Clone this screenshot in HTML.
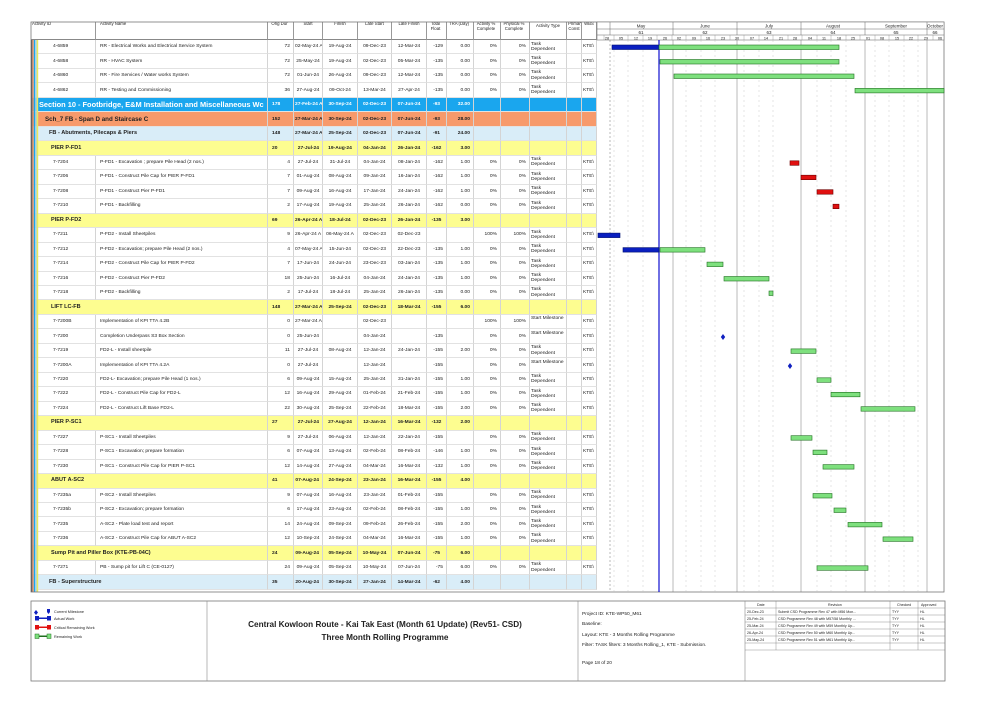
<!DOCTYPE html>
<html><head><meta charset="utf-8">
<style>
body{margin:0;width:1001px;height:708px;background:#fff;position:relative;overflow:hidden;font-family:"Liberation Sans",sans-serif;color:#222}
#tbl{position:absolute;left:31px;top:22px;border-collapse:separate;border-spacing:0;table-layout:fixed;width:566px}
#tbl td{padding:0 1px;font-size:4.9px;line-height:5px;overflow:hidden;white-space:nowrap;border-right:1px solid #d4d4d4;border-bottom:1px solid #e2e2e2;vertical-align:middle}
#tbl tr{height:14.47px}
#tbl tr.h{height:18px}
#tbl tr.h td{font-size:4.3px;text-align:center;vertical-align:top;border-bottom:1px solid #888;border-right:1px solid #999;white-space:normal;line-height:4.6px}
#tbl td:nth-child(1){padding-left:22px}
#tbl td:nth-child(3),#tbl td:nth-child(8),#tbl td:nth-child(9),#tbl td:nth-child(10),#tbl td:nth-child(11){text-align:right;padding-right:3px}
#tbl td:nth-child(4),#tbl td:nth-child(5),#tbl td:nth-child(6),#tbl td:nth-child(7){text-align:center}
#tbl td:nth-child(12){vertical-align:top;padding-top:1.5px;line-height:5.2px}
#tbl td:nth-child(2){padding-left:4px}
#tbl tr.s10 td{background:#1aa6ee;color:#fff;font-weight:bold}
#tbl tr.s10 td:first-child{font-size:7.4px;padding-left:8px}
#tbl tr.s7 td{background:#f79a6b;font-weight:bold}
#tbl tr.s7 td:first-child{font-size:6.2px;padding-left:14px}
#tbl tr.fb td{background:#d9edf8;font-weight:bold}
#tbl tr.fb td:first-child{font-size:5.6px;padding-left:18px}
#tbl tr.p td{background:#fdfd90;font-weight:bold}
#tbl tr.p td:first-child{font-size:5.5px;padding-left:20px}
</style></head><body>
<table id="tbl">
<colgroup><col style="width:65px"><col style="width:172px"><col style="width:26px"><col style="width:29px"><col style="width:35px"><col style="width:34px"><col style="width:35px"><col style="width:20px"><col style="width:27px"><col style="width:27px"><col style="width:29px"><col style="width:37px"><col style="width:15px"><col style="width:15px"></colgroup>
<tr class="h"><td style="text-align:left;padding-left:1px">Activity ID</td><td style="text-align:left">Activity Name</td><td>Orig Dur</td><td>Start</td><td>Finish</td><td>Late Start</td><td>Late Finish</td><td>Total Float</td><td>TRA (Day)</td><td>Activity % Complete</td><td>Physical % Complete</td><td>Activity Type</td><td>Primary Const</td><td>WBS</td></tr>
<tr><td>4-6859</td><td>RR - Electrical Works and Electrical Service System</td><td>72</td><td>02-May-24 A</td><td>19-Aug-24</td><td>09-Dec-23</td><td>12-Mar-24</td><td>-129</td><td>0.00</td><td>0%</td><td>0%</td><td>Task<br>Dependent</td><td></td><td>KTE\</td></tr>
<tr><td>4-6858</td><td>RR - HVAC System</td><td>72</td><td>25-May-24</td><td>19-Aug-24</td><td>02-Dec-23</td><td>05-Mar-24</td><td>-135</td><td>0.00</td><td>0%</td><td>0%</td><td>Task<br>Dependent</td><td></td><td>KTE\</td></tr>
<tr><td>4-6860</td><td>RR - Fire Services / Water works System</td><td>72</td><td>01-Jun-24</td><td>26-Aug-24</td><td>09-Dec-23</td><td>12-Mar-24</td><td>-135</td><td>0.00</td><td>0%</td><td>0%</td><td>Task<br>Dependent</td><td></td><td>KTE\</td></tr>
<tr><td>4-6862</td><td>RR - Testing and Commissioning</td><td>36</td><td>27-Aug-24</td><td>09-Oct-24</td><td>13-Mar-24</td><td>27-Apr-24</td><td>-135</td><td>0.00</td><td>0%</td><td>0%</td><td>Task<br>Dependent</td><td></td><td>KTE\</td></tr>
<tr class="s10"><td colspan="2">Section 10 - Footbridge, E&amp;M Installation and Miscellaneous Wc</td><td>178</td><td>27-Feb-24 A</td><td>30-Sep-24</td><td>02-Dec-23</td><td>07-Jun-24</td><td>-93</td><td>32.00</td><td></td><td></td><td></td><td></td><td></td></tr>
<tr class="s7"><td colspan="2">Sch_7 FB - Span D and Staircase C</td><td>152</td><td>27-Mar-24 A</td><td>30-Sep-24</td><td>02-Dec-23</td><td>07-Jun-24</td><td>-93</td><td>28.00</td><td></td><td></td><td></td><td></td><td></td></tr>
<tr class="fb"><td colspan="2">FB - Abutments, Pilecaps &amp; Piers</td><td>148</td><td>27-Mar-24 A</td><td>25-Sep-24</td><td>02-Dec-23</td><td>07-Jun-24</td><td>-91</td><td>24.00</td><td></td><td></td><td></td><td></td><td></td></tr>
<tr class="p"><td colspan="2">PIER P-FD1</td><td>20</td><td>27-Jul-24</td><td>19-Aug-24</td><td>04-Jan-24</td><td>26-Jan-24</td><td>-162</td><td>3.00</td><td></td><td></td><td></td><td></td><td></td></tr>
<tr><td>7-7204</td><td>P-FD1 - Excavation ; prepare Pile Head (2 nos.)</td><td>4</td><td>27-Jul-24</td><td>31-Jul-24</td><td>04-Jan-24</td><td>08-Jan-24</td><td>-162</td><td>1.00</td><td>0%</td><td>0%</td><td>Task<br>Dependent</td><td></td><td>KTE\</td></tr>
<tr><td>7-7206</td><td>P-FD1 - Construct Pile Cap for PIER P-FD1</td><td>7</td><td>01-Aug-24</td><td>08-Aug-24</td><td>09-Jan-24</td><td>16-Jan-24</td><td>-162</td><td>1.00</td><td>0%</td><td>0%</td><td>Task<br>Dependent</td><td></td><td>KTE\</td></tr>
<tr><td>7-7208</td><td>P-FD1 - Construct Pier P-FD1</td><td>7</td><td>09-Aug-24</td><td>16-Aug-24</td><td>17-Jan-24</td><td>24-Jan-24</td><td>-162</td><td>1.00</td><td>0%</td><td>0%</td><td>Task<br>Dependent</td><td></td><td>KTE\</td></tr>
<tr><td>7-7210</td><td>P-FD1 - Backfilling</td><td>2</td><td>17-Aug-24</td><td>19-Aug-24</td><td>25-Jan-24</td><td>26-Jan-24</td><td>-162</td><td>0.00</td><td>0%</td><td>0%</td><td>Task<br>Dependent</td><td></td><td>KTE\</td></tr>
<tr class="p"><td colspan="2">PIER P-FD2</td><td>69</td><td>26-Apr-24 A</td><td>18-Jul-24</td><td>02-Dec-23</td><td>26-Jan-24</td><td>-135</td><td>3.00</td><td></td><td></td><td></td><td></td><td></td></tr>
<tr><td>7-7211</td><td>P-FD2 - Install Sheetpiles</td><td>9</td><td>26-Apr-24 A</td><td>06-May-24 A</td><td>02-Dec-23</td><td>02-Dec-23</td><td></td><td></td><td>100%</td><td>100%</td><td>Task<br>Dependent</td><td></td><td>KTE\</td></tr>
<tr><td>7-7212</td><td>P-FD2 - Excavation; prepare Pile Head (2 nos.)</td><td>4</td><td>07-May-24 A</td><td>15-Jun-24</td><td>02-Dec-23</td><td>22-Dec-23</td><td>-135</td><td>1.00</td><td>0%</td><td>0%</td><td>Task<br>Dependent</td><td></td><td>KTE\</td></tr>
<tr><td>7-7214</td><td>P-FD2 - Construct Pile Cap for PIER P-FD2</td><td>7</td><td>17-Jun-24</td><td>24-Jun-24</td><td>23-Dec-23</td><td>03-Jan-24</td><td>-135</td><td>1.00</td><td>0%</td><td>0%</td><td>Task<br>Dependent</td><td></td><td>KTE\</td></tr>
<tr><td>7-7216</td><td>P-FD2 - Construct Pier P-FD2</td><td>18</td><td>25-Jun-24</td><td>16-Jul-24</td><td>04-Jan-24</td><td>24-Jan-24</td><td>-135</td><td>1.00</td><td>0%</td><td>0%</td><td>Task<br>Dependent</td><td></td><td>KTE\</td></tr>
<tr><td>7-7218</td><td>P-FD2 - Backfilling</td><td>2</td><td>17-Jul-24</td><td>18-Jul-24</td><td>25-Jan-24</td><td>26-Jan-24</td><td>-135</td><td>0.00</td><td>0%</td><td>0%</td><td>Task<br>Dependent</td><td></td><td>KTE\</td></tr>
<tr class="p"><td colspan="2">LIFT LC-FB</td><td>148</td><td>27-Mar-24 A</td><td>25-Sep-24</td><td>02-Dec-23</td><td>18-Mar-24</td><td>-155</td><td>6.00</td><td></td><td></td><td></td><td></td><td></td></tr>
<tr><td>7-7200B</td><td>Implementation of KPI TTA 4.2B</td><td>0</td><td>27-Mar-24 A</td><td></td><td>02-Dec-23</td><td></td><td></td><td></td><td>100%</td><td>100%</td><td>Start Milestone</td><td></td><td>KTE\</td></tr>
<tr><td>7-7200</td><td>Completion Underpass S3 Box Section</td><td>0</td><td>25-Jun-24</td><td></td><td>04-Jan-24</td><td></td><td>-135</td><td></td><td>0%</td><td>0%</td><td>Start Milestone</td><td></td><td>KTE\</td></tr>
<tr><td>7-7219</td><td>FD2-L - Install sheetpile</td><td>11</td><td>27-Jul-24</td><td>08-Aug-24</td><td>12-Jan-24</td><td>24-Jan-24</td><td>-155</td><td>2.00</td><td>0%</td><td>0%</td><td>Task<br>Dependent</td><td></td><td>KTE\</td></tr>
<tr><td>7-7200A</td><td>Implementation of KPI TTA 4.2A</td><td>0</td><td>27-Jul-24</td><td></td><td>12-Jan-24</td><td></td><td>-155</td><td></td><td>0%</td><td>0%</td><td>Start Milestone</td><td></td><td>KTE\</td></tr>
<tr><td>7-7220</td><td>FD2-L- Excavation; prepare Pile Head (1 nos.)</td><td>6</td><td>09-Aug-24</td><td>15-Aug-24</td><td>25-Jan-24</td><td>31-Jan-24</td><td>-155</td><td>1.00</td><td>0%</td><td>0%</td><td>Task<br>Dependent</td><td></td><td>KTE\</td></tr>
<tr><td>7-7222</td><td>FD2-L - Construct Pile Cap for FD2-L</td><td>12</td><td>16-Aug-24</td><td>29-Aug-24</td><td>01-Feb-24</td><td>21-Feb-24</td><td>-155</td><td>1.00</td><td>0%</td><td>0%</td><td>Task<br>Dependent</td><td></td><td>KTE\</td></tr>
<tr><td>7-7224</td><td>FD2-L - Construct Lift Base FD2-L</td><td>22</td><td>30-Aug-24</td><td>25-Sep-24</td><td>22-Feb-24</td><td>18-Mar-24</td><td>-155</td><td>2.00</td><td>0%</td><td>0%</td><td>Task<br>Dependent</td><td></td><td>KTE\</td></tr>
<tr class="p"><td colspan="2">PIER P-SC1</td><td>27</td><td>27-Jul-24</td><td>27-Aug-24</td><td>12-Jan-24</td><td>16-Mar-24</td><td>-132</td><td>2.00</td><td></td><td></td><td></td><td></td><td></td></tr>
<tr><td>7-7227</td><td>P-SC1 - Install Sheetpiles</td><td>9</td><td>27-Jul-24</td><td>06-Aug-24</td><td>12-Jan-24</td><td>22-Jan-24</td><td>-155</td><td></td><td>0%</td><td>0%</td><td>Task<br>Dependent</td><td></td><td>KTE\</td></tr>
<tr><td>7-7228</td><td>P-SC1 - Excavation; prepare formation</td><td>6</td><td>07-Aug-24</td><td>13-Aug-24</td><td>02-Feb-24</td><td>08-Feb-24</td><td>-146</td><td>1.00</td><td>0%</td><td>0%</td><td>Task<br>Dependent</td><td></td><td>KTE\</td></tr>
<tr><td>7-7230</td><td>P-SC1 - Construct Pile Cap for PIER P-SC1</td><td>12</td><td>14-Aug-24</td><td>27-Aug-24</td><td>04-Mar-24</td><td>16-Mar-24</td><td>-132</td><td>1.00</td><td>0%</td><td>0%</td><td>Task<br>Dependent</td><td></td><td>KTE\</td></tr>
<tr class="p"><td colspan="2">ABUT A-SC2</td><td>41</td><td>07-Aug-24</td><td>24-Sep-24</td><td>23-Jan-24</td><td>16-Mar-24</td><td>-155</td><td>4.00</td><td></td><td></td><td></td><td></td><td></td></tr>
<tr><td>7-7235a</td><td>P-SC2 - Install Sheetpiles</td><td>9</td><td>07-Aug-24</td><td>16-Aug-24</td><td>23-Jan-24</td><td>01-Feb-24</td><td>-155</td><td></td><td>0%</td><td>0%</td><td>Task<br>Dependent</td><td></td><td>KTE\</td></tr>
<tr><td>7-7235b</td><td>P-SC2 - Excavation; prepare formation</td><td>6</td><td>17-Aug-24</td><td>23-Aug-24</td><td>02-Feb-24</td><td>08-Feb-24</td><td>-155</td><td>1.00</td><td>0%</td><td>0%</td><td>Task<br>Dependent</td><td></td><td>KTE\</td></tr>
<tr><td>7-7235</td><td>A-SC2 - Plate load test and report</td><td>14</td><td>24-Aug-24</td><td>09-Sep-24</td><td>09-Feb-24</td><td>26-Feb-24</td><td>-155</td><td>2.00</td><td>0%</td><td>0%</td><td>Task<br>Dependent</td><td></td><td>KTE\</td></tr>
<tr><td>7-7236</td><td>A-SC2 - Construct Pile Cap for ABUT A-SC2</td><td>12</td><td>10-Sep-24</td><td>24-Sep-24</td><td>04-Mar-24</td><td>16-Mar-24</td><td>-155</td><td>1.00</td><td>0%</td><td>0%</td><td>Task<br>Dependent</td><td></td><td>KTE\</td></tr>
<tr class="p"><td colspan="2">Sump Pit and Piller Box (KTE-PB-04C)</td><td>24</td><td>09-Aug-24</td><td>05-Sep-24</td><td>10-May-24</td><td>07-Jun-24</td><td>-75</td><td>6.00</td><td></td><td></td><td></td><td></td><td></td></tr>
<tr><td>7-7271</td><td>PB - Sump pit for Lift C (CE-0127)</td><td>24</td><td>09-Aug-24</td><td>05-Sep-24</td><td>10-May-24</td><td>07-Jun-24</td><td>-75</td><td>6.00</td><td>0%</td><td>0%</td><td>Task<br>Dependent</td><td></td><td>KTE\</td></tr>
<tr class="fb"><td colspan="2">FB - Superstructure</td><td>35</td><td>20-Aug-24</td><td>30-Sep-24</td><td>27-Jan-24</td><td>14-Mar-24</td><td>-62</td><td>4.00</td><td></td><td></td><td></td><td></td><td></td></tr>
</table>

<svg style="position:absolute;left:0;top:0" width="1001" height="708">
<rect x="31" y="40" width="1.4" height="552" fill="#555"/>
<rect x="32.4" y="40" width="1.4" height="552" fill="#f79a6b"/>
<rect x="33.8" y="40" width="1.4" height="552" fill="#1aa6ee"/>
<rect x="35.2" y="40" width="1.4" height="552" fill="#9fd0ef"/>
<rect x="36.6" y="40" width="1.6" height="552" fill="#e8e860"/>
<rect x="31" y="22" width="913" height="570" fill="none" stroke="#777" stroke-width="0.8"/>
<rect x="597" y="22" width="347" height="18" fill="#fff" stroke="#777" stroke-width="0.6"/>
<line x1="597" y1="29" x2="944" y2="29" stroke="#666" stroke-width="0.5"/>
<line x1="597" y1="35" x2="944" y2="35" stroke="#666" stroke-width="0.5"/>
<g stroke="#666" stroke-width="0.5">
<line x1="610" y1="22" x2="610" y2="35"/><line x1="673" y1="22" x2="673" y2="35"/><line x1="737" y1="22" x2="737" y2="35"/><line x1="801" y1="22" x2="801" y2="35"/><line x1="865" y1="22" x2="865" y2="35"/><line x1="927" y1="22" x2="927" y2="35"/>
</g>
<g font-size="4.5" text-anchor="middle" fill="#222">
<text x="641" y="27.5">May</text><text x="705" y="27.5">June</text><text x="769" y="27.5">July</text><text x="833" y="27.5">August</text><text x="896" y="27.5">September</text><text x="935" y="27.5">October</text>
<text x="641" y="33.8">61</text><text x="705" y="33.8">62</text><text x="769" y="33.8">63</text><text x="833" y="33.8">64</text><text x="896" y="33.8">65</text><text x="935" y="33.8">66</text>
</g>
<g font-size="3.8" text-anchor="middle" fill="#222">
<text x="607" y="39.3">28</text><text x="621" y="39.3">05</text><text x="636" y="39.3">12</text><text x="650" y="39.3">19</text><text x="665" y="39.3">26</text><text x="679" y="39.3">02</text><text x="694" y="39.3">09</text><text x="708" y="39.3">16</text><text x="723" y="39.3">23</text><text x="737" y="39.3">30</text><text x="752" y="39.3">07</text><text x="766" y="39.3">14</text><text x="781" y="39.3">21</text><text x="795" y="39.3">28</text><text x="810" y="39.3">04</text><text x="824" y="39.3">11</text><text x="839" y="39.3">18</text><text x="853" y="39.3">25</text><text x="868" y="39.3">01</text><text x="882" y="39.3">08</text><text x="897" y="39.3">15</text><text x="911" y="39.3">22</text><text x="926" y="39.3">29</text><text x="940" y="39.3">06</text>
</g>
<g stroke="#888" stroke-width="0.4">
<line x1="604" y1="35" x2="604" y2="40"/><line x1="614" y1="35" x2="614" y2="40"/><line x1="628" y1="35" x2="628" y2="40"/><line x1="643" y1="35" x2="643" y2="40"/><line x1="657" y1="35" x2="657" y2="40"/><line x1="672" y1="35" x2="672" y2="40"/><line x1="686" y1="35" x2="686" y2="40"/><line x1="701" y1="35" x2="701" y2="40"/><line x1="715" y1="35" x2="715" y2="40"/><line x1="730" y1="35" x2="730" y2="40"/><line x1="744" y1="35" x2="744" y2="40"/><line x1="759" y1="35" x2="759" y2="40"/><line x1="773" y1="35" x2="773" y2="40"/><line x1="788" y1="35" x2="788" y2="40"/><line x1="802" y1="35" x2="802" y2="40"/><line x1="817" y1="35" x2="817" y2="40"/><line x1="831" y1="35" x2="831" y2="40"/><line x1="846" y1="35" x2="846" y2="40"/><line x1="860" y1="35" x2="860" y2="40"/><line x1="875" y1="35" x2="875" y2="40"/><line x1="889" y1="35" x2="889" y2="40"/><line x1="904" y1="35" x2="904" y2="40"/><line x1="918" y1="35" x2="918" y2="40"/><line x1="933" y1="35" x2="933" y2="40"/>
</g>
<g stroke="#bbb" stroke-width="0.4" stroke-dasharray="2,3">
<line x1="614" y1="40" x2="614" y2="592"/><line x1="628" y1="40" x2="628" y2="592"/><line x1="643" y1="40" x2="643" y2="592"/><line x1="686" y1="40" x2="686" y2="592"/><line x1="701" y1="40" x2="701" y2="592"/><line x1="715" y1="40" x2="715" y2="592"/><line x1="744" y1="40" x2="744" y2="592"/><line x1="759" y1="40" x2="759" y2="592"/><line x1="773" y1="40" x2="773" y2="592"/><line x1="817" y1="40" x2="817" y2="592"/><line x1="831" y1="40" x2="831" y2="592"/><line x1="846" y1="40" x2="846" y2="592"/><line x1="875" y1="40" x2="875" y2="592"/><line x1="889" y1="40" x2="889" y2="592"/><line x1="904" y1="40" x2="904" y2="592"/><line x1="918" y1="40" x2="918" y2="592"/>
</g>
<g stroke="#777" stroke-width="0.5">
<line x1="610" y1="40" x2="610" y2="592" stroke-dasharray="2,2"/><line x1="673" y1="40" x2="673" y2="592"/><line x1="737" y1="40" x2="737" y2="592"/><line x1="801" y1="40" x2="801" y2="592"/><line x1="865" y1="40" x2="865" y2="592"/><line x1="927" y1="40" x2="927" y2="592"/>
</g>
<line x1="659" y1="40" x2="659" y2="592" stroke="#1010d0" stroke-width="1.2"/>
<g stroke-width="0.6">
<rect x="612" y="45" width="47" height="4.5" fill="#0a1fc0" stroke="#001070"/>
<rect x="659" y="45" width="180" height="4.5" fill="#7ee07e" stroke="#207020"/>
<rect x="660" y="59.5" width="179" height="4.5" fill="#7ee07e" stroke="#207020"/>
<rect x="674" y="74" width="180" height="4.5" fill="#7ee07e" stroke="#207020"/>
<rect x="855" y="88.4" width="89" height="4.5" fill="#7ee07e" stroke="#207020"/>
<rect x="790" y="160.8" width="9" height="4.5" fill="#e01010" stroke="#700000"/>
<rect x="801" y="175.2" width="15" height="4.5" fill="#e01010" stroke="#700000"/>
<rect x="817" y="189.7" width="16" height="4.5" fill="#e01010" stroke="#700000"/>
<rect x="833" y="204.2" width="6" height="4.5" fill="#e01010" stroke="#700000"/>
<rect x="598" y="233.1" width="22" height="4.5" fill="#0a1fc0" stroke="#001070"/>
<rect x="623" y="247.6" width="36" height="4.5" fill="#0a1fc0" stroke="#001070"/>
<rect x="660" y="247.6" width="45" height="4.5" fill="#7ee07e" stroke="#207020"/>
<rect x="707" y="262.1" width="16" height="4.5" fill="#7ee07e" stroke="#207020"/>
<rect x="724" y="276.5" width="45" height="4.5" fill="#7ee07e" stroke="#207020"/>
<rect x="769" y="291" width="4" height="4.5" fill="#7ee07e" stroke="#207020"/>
<rect x="791" y="348.9" width="25" height="4.5" fill="#7ee07e" stroke="#207020"/>
<rect x="817" y="377.8" width="14" height="4.5" fill="#7ee07e" stroke="#207020"/>
<rect x="831" y="392.3" width="29" height="4.5" fill="#7ee07e" stroke="#207020"/>
<rect x="861" y="406.7" width="54" height="4.5" fill="#7ee07e" stroke="#207020"/>
<rect x="791" y="435.7" width="21" height="4.5" fill="#7ee07e" stroke="#207020"/>
<rect x="813" y="450.1" width="14" height="4.5" fill="#7ee07e" stroke="#207020"/>
<rect x="823" y="464.6" width="31" height="4.5" fill="#7ee07e" stroke="#207020"/>
<rect x="813" y="493.5" width="19" height="4.5" fill="#7ee07e" stroke="#207020"/>
<rect x="834" y="508" width="12" height="4.5" fill="#7ee07e" stroke="#207020"/>
<rect x="848" y="522.4" width="34" height="4.5" fill="#7ee07e" stroke="#207020"/>
<rect x="883" y="536.9" width="30" height="4.5" fill="#7ee07e" stroke="#207020"/>
<rect x="817" y="565.8" width="51" height="4.5" fill="#7ee07e" stroke="#207020"/>
</g>
<path d="M723,334 l2.2,3 l-2.2,3 l-2.2,-3z" fill="#1020c0"/>
<path d="M790,363 l2.2,3 l-2.2,3 l-2.2,-3z" fill="#1020c0"/>
<rect x="31" y="601" width="914" height="80" fill="#fff" stroke="#777" stroke-width="0.8"/>
<line x1="207" y1="601" x2="207" y2="681" stroke="#888" stroke-width="0.6"/>
<line x1="578" y1="601" x2="578" y2="681" stroke="#888" stroke-width="0.6"/>
<line x1="745" y1="601" x2="745" y2="681" stroke="#888" stroke-width="0.6"/>
<path d="M36,610 l2,2.5 l-2,2.5 l-2,-2.5z" fill="#1020c0"/>
<path d="M47,609 h3 v3 l-1.5,2 l-1.5,-2z" fill="#1020c0"/>
<rect x="35" y="617.5" width="16" height="1.5" fill="#1020c0"/><rect x="35" y="616" width="4" height="4.5" fill="#1020c0"/><rect x="47" y="616" width="4" height="4.5" fill="#1020c0"/>
<rect x="35" y="626.5" width="16" height="1.5" fill="#e01010"/><rect x="35" y="625" width="4" height="4.5" fill="#e01010"/><rect x="47" y="625" width="4" height="4.5" fill="#e01010"/>
<rect x="35" y="635.5" width="16" height="1.5" fill="#207020"/><rect x="35" y="634" width="4" height="4.5" fill="#7ee07e" stroke="#207020" stroke-width="0.5"/><rect x="47" y="634" width="4" height="4.5" fill="#7ee07e" stroke="#207020" stroke-width="0.5"/>
<g font-size="3.8" fill="#222"><text x="54" y="613">Current Milestone</text><text x="54" y="620">Actual Work</text><text x="54" y="629">Critical Remaining Work</text><text x="54" y="638">Remaining Work</text></g>
<g font-size="8.2" font-weight="bold" text-anchor="middle" fill="#222"><text x="385" y="627">Central Kowloon Route - Kai Tak East (Month 61 Update) (Rev51- CSD)</text><text x="385" y="640">Three Month Rolling Programme</text></g>
<g font-size="4.8" fill="#222"><text x="582" y="615">Project ID: KTE-WP50_M61</text><text x="582" y="625">Baseline:</text><text x="582" y="636">Layout: KTE - 3 Months Rolling Programme</text><text x="582" y="646">Filter: TASK filters: 3 Months Rolling_1, KTE - Submission.</text><text x="582" y="664">Page 18 of 20</text></g>
<g stroke="#777" stroke-width="0.4">
<line x1="745" y1="608" x2="945" y2="608"/><line x1="745" y1="615" x2="945" y2="615"/><line x1="745" y1="622" x2="945" y2="622"/><line x1="745" y1="629" x2="945" y2="629"/><line x1="745" y1="636" x2="945" y2="636"/><line x1="745" y1="643" x2="945" y2="643"/><line x1="745" y1="650" x2="945" y2="650"/>
<line x1="776" y1="601" x2="776" y2="650"/><line x1="890" y1="601" x2="890" y2="650"/><line x1="918" y1="601" x2="918" y2="650"/>
</g>
<g font-size="3.6" fill="#222">
<text x="757" y="606">Date</text><text x="828" y="606">Revision</text><text x="897" y="606">Checked</text><text x="921" y="606">Approved</text>
<text x="747" y="613">20-Dec-23</text><text x="778" y="613">Submit CSD Programme Rev 47 with M56 Mon...</text><text x="892" y="613">TYY</text><text x="920" y="613">HL</text>
<text x="747" y="620">25-Feb-24</text><text x="778" y="620">CSD Programme Rev 48 with M57/58 Monthly ...</text><text x="892" y="620">TYY</text><text x="920" y="620">HL</text>
<text x="747" y="627">25-Mar-24</text><text x="778" y="627">CSD Programme Rev 49 with M59 Monthly Up...</text><text x="892" y="627">TYY</text><text x="920" y="627">HL</text>
<text x="747" y="634">26-Apr-24</text><text x="778" y="634">CSD Programme Rev 50 with M60 Monthly Up...</text><text x="892" y="634">TYY</text><text x="920" y="634">HL</text>
<text x="747" y="641">25-May-24</text><text x="778" y="641">CSD Programme Rev 51 with M61 Monthly Up...</text><text x="892" y="641">TYY</text><text x="920" y="641">HL</text>
</g>
</svg>
</body></html>
